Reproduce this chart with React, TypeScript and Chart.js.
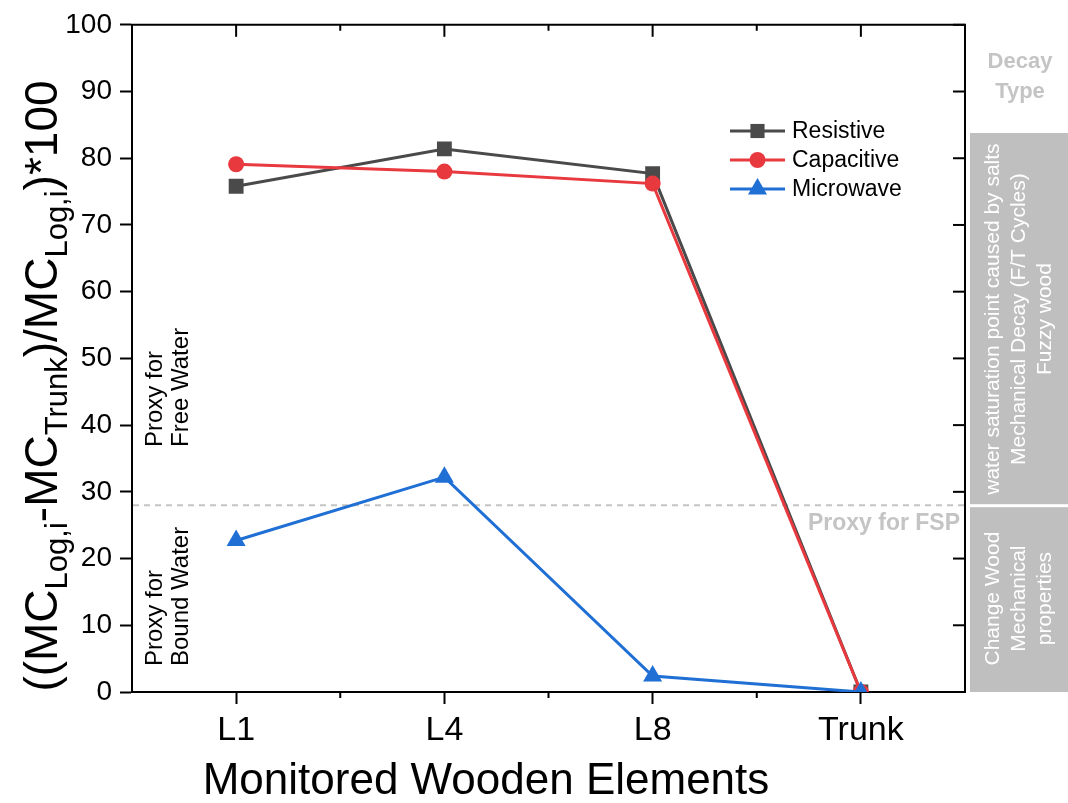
import React, { useEffect, useRef } from 'react';
import { Chart, registerables } from 'chart.js';

Chart.register(...registerables);

const categories = ['L1', 'L4', 'L8', 'Trunk'];
const resistive = [75.8, 81.4, 77.7, 0];
const capacitive = [79.1, 78.0, 76.2, 0];
const microwave = [22.7, 32.2, 2.4, 0];
const seriesNames = ['Resistive', 'Capacitive', 'Microwave'];
const seriesColors = ['#4a4a4a', '#e8393f', '#1f6fd4'];
const seriesShapes = ['rect', 'circle', 'triangle'];
const yMin = 0;
const yMax = 100;
const yStep = 10;
const fspLevel = 28;
const fspLabel = 'Proxy for FSP';
const freeWaterLabel = ['Proxy for', 'Free Water'];
const boundWaterLabel = ['Proxy for', 'Bound Water'];
const decayTitle = ['Decay', 'Type'];
const decayUpper = ['water saturation point caused by salts', 'Mechanical Decay (F/T Cycles)', 'Fuzzy wood'];
const decayLower = ['Change Wood', 'Mechanical', 'properties'];
const xTitle = 'Monitored Wooden Elements';

const FONT = "'Liberation Sans', Arial, Helvetica, sans-serif";

function drawMarker(ctx: CanvasRenderingContext2D, shape: string, x: number, y: number, r: number, color: string) {
  ctx.save();
  ctx.fillStyle = color;
  ctx.beginPath();
  if (shape === 'rect') {
    const s = Math.SQRT1_2 * r;
    ctx.rect(x - s, y - s, 2 * s, 2 * s);
  } else if (shape === 'circle') {
    ctx.arc(x, y, r, 0, Math.PI * 2);
  } else {
    let rad = 0;
    ctx.moveTo(x + Math.sin(rad) * r, y - Math.cos(rad) * r);
    rad += (2 * Math.PI) / 3;
    ctx.lineTo(x + Math.sin(rad) * r, y - Math.cos(rad) * r);
    rad += (2 * Math.PI) / 3;
    ctx.lineTo(x + Math.sin(rad) * r, y - Math.cos(rad) * r);
    ctx.closePath();
  }
  ctx.fill();
  ctx.restore();
}

function drawRotatedLines(ctx: CanvasRenderingContext2D, lines: string[], xs: number[], y: number, align: CanvasTextAlign, font: string, color: string) {
  ctx.save();
  ctx.font = font;
  ctx.fillStyle = color;
  ctx.textAlign = align;
  ctx.textBaseline = 'middle';
  lines.forEach((t, i) => {
    ctx.save();
    ctx.translate(xs[i], y);
    ctx.rotate(-Math.PI / 2);
    ctx.fillText(t, 0, 0);
    ctx.restore();
  });
  ctx.restore();
}

const backgroundPlugin = {
  id: 'fspLine',
  beforeDatasetsDraw(chart: any) {
    const { ctx, chartArea } = chart;
    const y = chart.scales.y.getPixelForValue(fspLevel);
    ctx.save();
    ctx.strokeStyle = '#c4c4c4';
    ctx.lineWidth = 2;
    ctx.setLineDash([6, 5]);
    ctx.beginPath();
    ctx.moveTo(chartArea.left + 1, y);
    ctx.lineTo(chartArea.right, y);
    ctx.stroke();
    ctx.restore();
  },
};

const overlayPlugin = {
  id: 'overlay',
  afterDraw(chart: any) {
    const { ctx, chartArea } = chart;
    const xs = chart.scales.x;
    const ys = chart.scales.y;
    const { left, right, top, bottom } = chartArea;

    // frame top/right
    ctx.save();
    ctx.strokeStyle = '#000';
    ctx.lineWidth = 2;
    ctx.beginPath();
    ctx.moveTo(left - 1, top);
    ctx.lineTo(right, top);
    ctx.lineTo(right, bottom + 1);
    ctx.stroke();

    const n = categories.length;
    for (let i = 0; i < n; i++) {
      const px = xs.getPixelForValue(i);
      ctx.beginPath();
      ctx.moveTo(px, top);
      ctx.lineTo(px, top + 12);
      ctx.stroke();
    }
    for (let i = 0; i < n - 1; i++) {
      const px = (xs.getPixelForValue(i) + xs.getPixelForValue(i + 1)) / 2;
      ctx.beginPath();
      ctx.moveTo(px, top);
      ctx.lineTo(px, top + 6);
      ctx.moveTo(px, bottom);
      ctx.lineTo(px, bottom + 6);
      ctx.stroke();
    }
    for (let v = yMin; v <= yMax; v += yStep) {
      const py = ys.getPixelForValue(v);
      ctx.beginPath();
      ctx.moveTo(right, py);
      ctx.lineTo(right - 12, py);
      ctx.stroke();
    }
    ctx.restore();

    // legend
    ctx.save();
    const legX0 = 730;
    const legX1 = 785;
    const legY = [131, 160, 189];
    const radii = [10, 8, 11];
    seriesNames.forEach((name, i) => {
      ctx.strokeStyle = seriesColors[i];
      ctx.lineWidth = 3;
      ctx.beginPath();
      ctx.moveTo(legX0, legY[i]);
      ctx.lineTo(legX1, legY[i]);
      ctx.stroke();
      drawMarker(ctx, seriesShapes[i], (legX0 + legX1) / 2, legY[i], radii[i], seriesColors[i]);
      ctx.fillStyle = '#000';
      ctx.font = `23px ${FONT}`;
      ctx.textAlign = 'left';
      ctx.textBaseline = 'middle';
      ctx.fillText(name, 792, legY[i] + 1);
    });
    ctx.restore();

    // FSP label
    const fy = ys.getPixelForValue(fspLevel);
    ctx.save();
    ctx.font = `bold 23px ${FONT}`;
    ctx.fillStyle = '#c4c4c4';
    ctx.textAlign = 'right';
    ctx.textBaseline = 'middle';
    ctx.fillText(fspLabel, right - 5, fy + 18);
    ctx.restore();

    // Free / bound water labels
    drawRotatedLines(ctx, freeWaterLabel, [155, 181], 447, 'left', `24px ${FONT}`, '#000');
    drawRotatedLines(ctx, boundWaterLabel, [155, 181], 666, 'left', `24px ${FONT}`, '#000');

    // Right panel
    ctx.save();
    ctx.fillStyle = '#bfbfbf';
    ctx.fillRect(970, 133, 98, fy - 1 - 133);
    ctx.fillRect(970, fy + 2, 98, bottom - fy - 2);
    ctx.font = `bold 22px ${FONT}`;
    ctx.fillStyle = '#c4c4c4';
    ctx.textAlign = 'center';
    ctx.textBaseline = 'middle';
    ctx.fillText(decayTitle[0], 1020, 62);
    ctx.fillText(decayTitle[1], 1020, 92);
    ctx.restore();
    drawRotatedLines(ctx, decayUpper, [993, 1019, 1045], (133 + fy) / 2, 'center', `21px ${FONT}`, '#ffffff');
    drawRotatedLines(ctx, decayLower, [993, 1019, 1045], (fy + bottom) / 2, 'center', `21px ${FONT}`, '#ffffff');

    // X title
    ctx.save();
    ctx.font = `44px ${FONT}`;
    ctx.fillStyle = '#000';
    ctx.textAlign = 'center';
    ctx.textBaseline = 'middle';
    ctx.fillText(xTitle, 486, 782);
    ctx.restore();

    // Y title with subscripts
    const parts: [string, boolean][] = [
      ['((MC', false],
      ['Log,i', true],
      ['-MC', false],
      ['Trunk', true],
      [')/MC', false],
      ['Log,i', true],
      [')*100', false],
    ];
    const mainFont = `46px ${FONT}`;
    const subFont = `31px ${FONT}`;
    ctx.save();
    let total = 0;
    parts.forEach(([t, sub]) => {
      ctx.font = sub ? subFont : mainFont;
      total += ctx.measureText(t).width;
    });
    ctx.translate(0, 386);
    ctx.rotate(-Math.PI / 2);
    ctx.fillStyle = '#000';
    ctx.textAlign = 'left';
    ctx.textBaseline = 'alphabetic';
    let lx = -total / 2;
    parts.forEach(([t, sub]) => {
      ctx.font = sub ? subFont : mainFont;
      ctx.fillText(t, lx, sub ? 67 : 57);
      lx += ctx.measureText(t).width;
    });
    ctx.restore();
  },
};

export default function App() {
  const canvasRef = useRef<HTMLCanvasElement | null>(null);

  useEffect(() => {
    const canvas = canvasRef.current;
    if (!canvas) return;
    const mk = (i: number, data: number[], order: number) => ({
      label: seriesNames[i],
      data,
      borderColor: seriesColors[i],
      backgroundColor: seriesColors[i],
      pointBackgroundColor: seriesColors[i],
      pointBorderColor: seriesColors[i],
      pointBorderWidth: 0,
      pointStyle: seriesShapes[i],
      pointRadius: [10.5, 8, 11][i],
      borderWidth: 3,
      tension: 0,
      fill: false,
      order,
    });
    const chart = new Chart(canvas, {
      type: 'line',
      data: {
        labels: categories,
        datasets: [mk(0, resistive, 3), mk(1, capacitive, 2), mk(2, microwave, 1)],
      },
      options: {
        responsive: false,
        animation: false,
        devicePixelRatio: 1,
        layout: { padding: { top: 20, right: 103, left: 0, bottom: 0 } },
        plugins: { legend: { display: false }, tooltip: { enabled: false } },
        scales: {
          x: {
            type: 'category',
            offset: true,
            grid: { display: true, drawOnChartArea: false, offset: false, tickLength: 12, tickWidth: 2, tickColor: '#000' },
            border: { display: true, color: '#000', width: 2 },
            ticks: { font: { family: FONT, size: 34 }, color: '#000', padding: 6, maxRotation: 0, autoSkip: false },
            afterFit(s: any) { s.height = 111; },
          },
          y: {
            min: yMin,
            max: yMax,
            grid: { display: true, drawOnChartArea: false, tickLength: 12, tickWidth: 2, tickColor: '#000' },
            border: { display: true, color: '#000', width: 2 },
            ticks: { stepSize: yStep, font: { family: FONT, size: 28 }, color: '#000', padding: 8 },
            afterFit(s: any) { s.width = 132; },
          },
        },
      } as any,
      plugins: [backgroundPlugin, overlayPlugin],
    });
    return () => chart.destroy();
  }, []);

  return (
    <div style={{ position: 'fixed', left: 0, top: 0, width: 1068, height: 803, background: '#fff' }}>
      <canvas ref={canvasRef} width={1068} height={803} style={{ width: 1068, height: 803, display: 'block' }} />
    </div>
  );
}
